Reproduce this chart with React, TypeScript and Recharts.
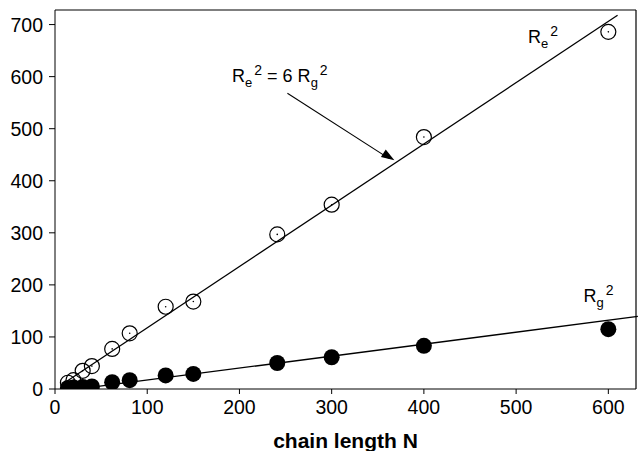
import React from 'react';
import {
  ComposedChart, XAxis, YAxis, Scatter, ReferenceLine,
} from 'recharts';

const chainN = [14, 20, 30, 40, 62, 81, 120, 150, 241, 300, 400, 600];
const re2 = [12, 17, 35, 44, 77, 107, 158, 168, 297, 354, 484, 686];
const rg2 = [2, 3, 4, 5, 13, 17, 26, 29, 50, 61, 83, 115];

const xTicks = [0, 100, 200, 300, 400, 500, 600];
const yTicks = [0, 100, 200, 300, 400, 500, 600, 700];

const X_MAX = 630;
const Y_MAX = 728;

const reFit = [{ x: 12, y: 14 }, { x: 610, y: 718 }];
const rgFit = [{ x: 30, y: 1 }, { x: 632, y: 139.5 }];
const arrowSeg = [{ x: 252, y: 568 }, { x: 362, y: 443 }];
const arrowTip = [{ x: 368, y: 439.5 }];

const labelMain = [{ x: 192, y: 589 }];
const labelRe = [{ x: 513, y: 664 }];
const labelRg = [{ x: 573, y: 167 }];

const reData = chainN.map((n, i) => ({ x: n, y: re2[i] }));
const rgData = chainN.map((n, i) => ({ x: n, y: rg2[i] }));

const FONT = 'Liberation Sans, Arial, sans-serif';

const OpenCircle = (p: any) => (
  <g>
    <circle cx={p.cx} cy={p.cy} r={7.5} fill="none" stroke="#000" strokeWidth={1.2} />
    <circle cx={p.cx} cy={p.cy} r={0.8} fill="#000" />
  </g>
);
const FilledCircle = (p: any) => (
  <circle cx={p.cx} cy={p.cy} r={8} fill="#000" />
);
const ArrowHead = (p: any) => (
  <polygon
    points="0,0 -13,-4.5 -13,4.5"
    fill="#000"
    transform={`translate(${p.cx},${p.cy}) rotate(32)`}
  />
);

const ReLabel = (withEq: boolean) => (p: any) => (
  <text x={p.cx} y={p.cy} fontFamily={FONT} fontSize={18} fill="#000">
    <tspan>R</tspan>
    <tspan fontSize={13} dy={5}>e</tspan>
    <tspan fontSize={14} dy={-12} dx={2}>2</tspan>
    {withEq ? (
      <>
        <tspan dy={7}> = 6 R</tspan>
        <tspan fontSize={13} dy={5}>g</tspan>
        <tspan fontSize={14} dy={-12} dx={2}>2</tspan>
      </>
    ) : null}
  </text>
);

const RgLabel = (p: any) => (
  <text x={p.cx} y={p.cy} fontFamily={FONT} fontSize={18} fill="#000">
    <tspan>R</tspan>
    <tspan fontSize={13} dy={5}>g</tspan>
    <tspan fontSize={14} dy={-12} dx={2}>2</tspan>
  </text>
);

const TICK_STYLE = { fontSize: '19.5px', fontFamily: FONT };

function XTick(p: any) {
  const v = p.payload ? p.payload.value : '';
  return (
    <text x={p.x} y={p.y + 16} textAnchor="middle" fill="#000" fontSize={19.5} style={TICK_STYLE}>
      {String(v)}
    </text>
  );
}
function YTick(p: any) {
  const v = p.payload ? p.payload.value : '';
  return (
    <text x={p.x} y={p.y + 7} textAnchor="end" fill="#000" fontSize={19.5} style={TICK_STYLE}>
      {String(v)}
    </text>
  );
}

export default function App() {
  return (
    <div style={{ position: 'absolute', left: 0, top: 0, background: '#fff' }}>
      <ComposedChart
        width={641}
        height={451}
        margin={{ top: 10, right: 5, left: 0, bottom: 0 }}
        style={{ fontFamily: FONT }}
      >
        <XAxis
          xAxisId="b"
          type="number"
          dataKey="x"
          domain={[0, X_MAX]}
          ticks={xTicks}
          allowDataOverflow
          stroke="#000"
          tickSize={5}
          height={62}
          tick={<XTick />}
          tickMargin={4}
          label={{ value: 'chain length N', position: 'insideBottom', offset: 3, fill: '#000', fontSize: 21, fontWeight: 'bold', fontFamily: FONT }}
        />
        <YAxis
          yAxisId="l"
          type="number"
          dataKey="y"
          domain={[0, Y_MAX]}
          ticks={yTicks}
          allowDataOverflow
          stroke="#000"
          tickSize={6}
          width={55}
          tick={<YTick />}
          tickMargin={6}
        />

        <ReferenceLine xAxisId="b" yAxisId="l" y={Y_MAX} stroke="#000" strokeWidth={1.2} ifOverflow="visible" />
        <ReferenceLine xAxisId="b" yAxisId="l" x={X_MAX} stroke="#000" strokeWidth={1.2} ifOverflow="visible" />

        <ReferenceLine xAxisId="b" yAxisId="l" segment={reFit} stroke="#000" strokeWidth={1.3} ifOverflow="visible" />
        <ReferenceLine xAxisId="b" yAxisId="l" segment={rgFit} stroke="#000" strokeWidth={1.3} ifOverflow="visible" />
        <ReferenceLine xAxisId="b" yAxisId="l" segment={arrowSeg} stroke="#000" strokeWidth={1.1} ifOverflow="visible" />

        <Scatter xAxisId="b" yAxisId="l" data={reData} shape={OpenCircle} isAnimationActive={false} />
        <Scatter xAxisId="b" yAxisId="l" data={rgData} shape={FilledCircle} isAnimationActive={false} />
        <Scatter xAxisId="b" yAxisId="l" data={arrowTip} shape={ArrowHead} isAnimationActive={false} />
        <Scatter xAxisId="b" yAxisId="l" data={labelMain} shape={ReLabel(true)} isAnimationActive={false} />
        <Scatter xAxisId="b" yAxisId="l" data={labelRe} shape={ReLabel(false)} isAnimationActive={false} />
        <Scatter xAxisId="b" yAxisId="l" data={labelRg} shape={RgLabel} isAnimationActive={false} />
      </ComposedChart>
    </div>
  );
}
